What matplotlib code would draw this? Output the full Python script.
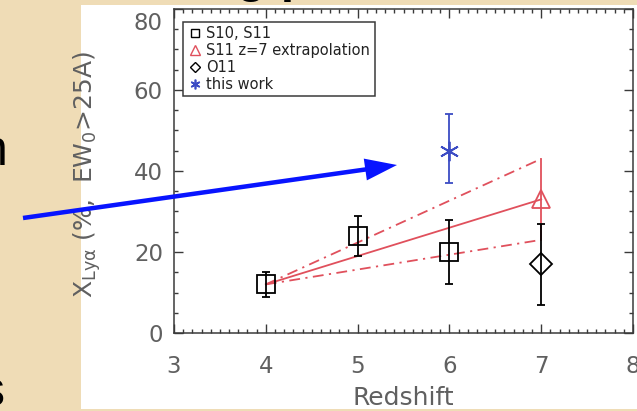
import matplotlib
matplotlib.use('Agg')
import matplotlib.pyplot as plt
import matplotlib.transforms as mtransforms
from matplotlib.patches import Rectangle, FancyArrow
from matplotlib.lines import Line2D
from matplotlib.ticker import MultipleLocator

# Lya fraction vs redshift
z_s11 = [4, 5, 6]
x_s11 = [12, 24, 20]
err_s11 = [3, 5, 8]

z_extrap = 7
x_extrap = 33
x_extrap_lo = 23
x_extrap_hi = 43

z_o11 = 7
x_o11 = 17
err_o11 = 10

z_this = 6
x_this = 45
err_this_lo = 8
err_this_hi = 9

xticks = [3, 4, 5, 6, 7, 8]
yticks = [0, 20, 40, 60, 80]

RED = '#e0505c'
BLUE = '#3c4cc4'
INK = '#3a3a3a'
GREY = '#606060'

W, H = 637, 411
fig = plt.figure(figsize=(W / 100, H / 100), dpi=100)
fig.patch.set_facecolor('#efdcb6')

# slide background: white panel plus the bits of slide text around it
bg = fig.add_axes([0, 0, 1, 1])
bg.set_xlim(0, W)
bg.set_ylim(H, 0)
bg.axis('off')
bg.add_patch(Rectangle((81, 5), W - 81, 404, facecolor='white', edgecolor='none'))
bg.text(-20, 165, 'n', fontsize=36, family='Liberation Sans', color='black', va='baseline')
bg.text(-20, 406, 's', fontsize=36, family='Liberation Sans', color='black', va='baseline')
bg.text(236, -8, 'g', fontsize=34, family='Liberation Sans', weight='bold', color='black', va='baseline')
bg.text(281, -8, 'p', fontsize=34, family='Liberation Sans', weight='bold', color='black', va='baseline')

ax = fig.add_axes([174 / W, 1 - 333 / H, (633 - 174) / W, 324 / H])
ax.set_facecolor('none')
ax.set_xlim(3, 8)
ax.set_ylim(0, 80)

# extrapolation lines from z=4 out to z=7
z_line = [z_s11[0], z_extrap]
dashdot = (0, (6, 3, 1.2, 3))
ax.plot(z_line, [x_s11[0], x_extrap], color=RED, lw=1.3)
ax.plot(z_line, [x_s11[0], x_extrap_hi], color=RED, lw=1.3, linestyle=dashdot)
ax.plot(z_line, [x_s11[0], x_extrap_lo], color=RED, lw=1.3, linestyle=dashdot)
ax.plot([z_extrap, z_extrap], [x_extrap_lo, x_extrap_hi], color=RED, lw=1.3)
ax.plot([z_extrap], [x_extrap], marker='^', ms=13, mfc='none', mec=RED, mew=1.3, ls='none')

ax.errorbar(z_s11, x_s11, yerr=err_s11, fmt='s', ms=13, mfc='none', mec='black', mew=1.3,
            ecolor='black', elinewidth=1.3, capsize=2.6, capthick=1.3)
ax.errorbar([z_o11], [x_o11], yerr=[err_o11], fmt='D', ms=11, mfc='none', mec='black', mew=1.3,
            ecolor='black', elinewidth=1.3, capsize=2.6, capthick=1.3)
ax.errorbar([z_this], [x_this], yerr=[[err_this_lo], [err_this_hi]], fmt='none',
            ecolor=BLUE, elinewidth=1.3, capsize=2.6, capthick=1.3)
ax.plot([z_this], [x_this], marker=(6, 2, 0), ms=14, mec=BLUE, mew=1.3, ls='none')
ax.plot([z_this], [x_this], marker='o', ms=3, color=BLUE, ls='none')

ax.set_xticks(xticks)
ax.set_yticks(yticks)
ax.xaxis.set_minor_locator(MultipleLocator(0.1))
ax.yaxis.set_minor_locator(MultipleLocator(5))
ax.tick_params(which='both', direction='in', top=True, right=True, colors=INK, width=1.0)
ax.tick_params(which='major', length=6.5)
ax.tick_params(which='minor', length=3.2)
ax.tick_params(axis='x', which='major', pad=16, labelsize=16.5, labelcolor=GREY)
ax.tick_params(axis='y', which='major', pad=8, labelsize=16.5, labelcolor=GREY)
for sp in ax.spines.values():
    sp.set_color(INK)
    sp.set_linewidth(1.1)

# top label sits a little lower
lab80 = ax.get_yticklabels()[-1]
lab80.set_transform(lab80.get_transform() + mtransforms.ScaledTranslation(0, -12 / 100, fig.dpi_scale_trans))

ax.set_xlabel('Redshift', fontsize=18, color=GREY)
ax.xaxis.set_label_coords(0.5, (333 - 386) / 324)
ax.set_ylabel(r'X$_{\mathregular{Ly\alpha}}$ (%,  EW$_{\mathregular{0}}$>25A)', fontsize=18, color=GREY)
ax.yaxis.set_label_coords((103 - 174) / 459, 0.49)

handles = [
    Line2D([], [], marker='s', ms=6, mfc='none', mec='black', mew=1.0, ls='none'),
    Line2D([], [], marker='^', ms=7, mfc='none', mec=RED, mew=1.0, ls='none'),
    Line2D([], [], marker='D', ms=5, mfc='none', mec='black', mew=1.0, ls='none'),
    Line2D([], [], marker=(6, 2, 0), ms=7, mec=BLUE, mew=1.2, ls='none'),
]
labels = ['S10, S11', 'S11 z=7 extrapolation', 'O11', 'this work']
leg = ax.legend(handles, labels, loc='upper left', bbox_to_anchor=((183 - 174) / 459, (333 - 22) / 324),
                borderaxespad=0, fontsize=10.5, labelspacing=0.12, handlelength=1.0, handletextpad=0.3,
                borderpad=0.3, fancybox=False, framealpha=1, edgecolor=INK)
leg.get_frame().set_linewidth(1.1)
for t in leg.get_texts():
    t.set_color('#222222')

# blue pointer arrow over everything
ov = fig.add_axes([0, 0, 1, 1])
ov.set_xlim(0, W)
ov.set_ylim(H, 0)
ov.axis('off')
ov.patch.set_alpha(0)
tail = (23, 218)
tip = (397, 165)
ov.add_patch(FancyArrow(tail[0], tail[1], tip[0] - tail[0], tip[1] - tail[1], width=4.5,
                        head_width=22, head_length=32, length_includes_head=True,
                        color='#0814ff', lw=0))

fig.savefig('out.png', dpi=100)
